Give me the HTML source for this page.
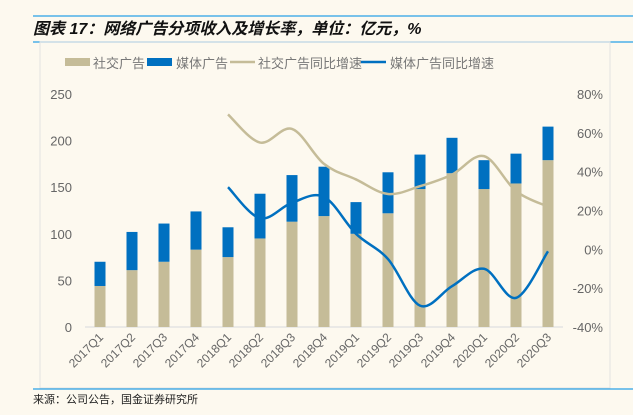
<!DOCTYPE html>
<html><head><meta charset="utf-8"><style>
body{margin:0;background:#fdf9ef;width:633px;height:410px;overflow:hidden;font-family:"Liberation Sans","Noto Sans CJK SC",sans-serif}
</style></head><body>
<svg width="633" height="410" xmlns="http://www.w3.org/2000/svg">
<rect width="633" height="410" fill="#fdf9ef"/>
<line x1="33" y1="16" x2="633" y2="16" stroke="#2aa2e6" stroke-width="1.2"/>
<text x="33" y="34" font-size="16" font-weight="bold" font-style="italic" fill="#111" font-family="Liberation Sans,'Noto Sans CJK SC',sans-serif">图表 17：网络广告分项收入及增长率，单位：亿元，%</text>
<line x1="33" y1="42" x2="633" y2="42" stroke="#2aa2e6" stroke-width="1.2"/>
<rect x="40" y="42" width="570" height="346" fill="none" stroke="#e2e2e2"/>
<line x1="33" y1="389" x2="633" y2="389" stroke="#2aa2e6" stroke-width="1.2"/>
<text x="33" y="403" font-size="11" fill="#222">来源：公司公告，国金证券研究所</text>
<g id="legend" font-size="13" fill="#777">
<rect x="65" y="58" width="25" height="8" fill="#c5bc98"/>
<text x="93" y="68">社交广告</text>
<rect x="147" y="58" width="25" height="8" fill="#0070c0"/>
<text x="176" y="68">媒体广告</text>
<line x1="230" y1="62" x2="255" y2="62" stroke="#c5bc98" stroke-width="2.5"/>
<text x="258" y="68">社交广告同比增速</text>
<line x1="361" y1="62" x2="386" y2="62" stroke="#0070c0" stroke-width="2.5"/>
<text x="390" y="68">媒体广告同比增速</text>
</g>
<g id="axes"></g>
<g id="bars"></g>
<g id="lines"></g>
</svg>
<script>
const categories=["2017Q1","2017Q2","2017Q3","2017Q4","2018Q1","2018Q2","2018Q3","2018Q4","2019Q1","2019Q2","2019Q3","2019Q4","2020Q1","2020Q2","2020Q3"];
const socialAds=[44,61,70,83,75,95,113,119,100,122,148,165,148,154,179];
const mediaAds=[26,41,41,41,32,48,50,53,34,44,37,38,31,32,36];
const socialGrowth=[null,null,null,null,69.5,55,62,44,36,28.5,32.5,38.5,48,30,22];
const mediaGrowth=[null,null,null,null,32,16,24,27,8,-5,-29,-19,-10,-25,-1];
const leftTicks=[0,50,100,150,200,250];
const rightTicks=[-40,-20,0,20,40,60,80];

const NS="http://www.w3.org/2000/svg";
const y0=327,y1=94;
const yL=v=>y0-(v/250)*(y0-y1);
const yR=v=>y0-((v+40)/120)*(y0-y1);
const xC=i=>100+i*32;
function mk(tag,attrs,parent){const e=document.createElementNS(NS,tag);for(const k in attrs)e.setAttribute(k,attrs[k]);document.getElementById(parent).appendChild(e);return e;}

const ax=mk("line",{x1:85,y1:y0,x2:563,y2:y0,stroke:"#e0e0e0","stroke-width":1.2},"axes");


leftTicks.forEach(t=>{const e=mk("text",{x:72,y:yL(t)+5,"font-size":13,fill:"#666","text-anchor":"end"},"axes");e.textContent=t;

});
rightTicks.forEach(t=>{const e=mk("text",{x:603,y:yR(t)+5,"font-size":13,fill:"#666","text-anchor":"end"},"axes");e.textContent=t+"%";

});
categories.forEach((c,i)=>{const x=xC(i)+4,y=338;const e=mk("text",{x:x,y:y,"font-size":12,fill:"#666","text-anchor":"end",transform:`rotate(-45 ${x} ${y})`},"axes");e.textContent=c;

});

categories.forEach((c,i)=>{const w=11,x=xC(i)-w/2;
const s=mk("rect",{x:x,y:yL(socialAds[i]),width:w,height:y0-yL(socialAds[i]),fill:"#c5bc98"},"bars");


const tot=socialAds[i]+mediaAds[i];
const m=mk("rect",{x:x,y:yL(tot),width:w,height:yL(socialAds[i])-yL(tot),fill:"#0070c0"},"bars");

});

function smooth(pts){let d=`M${pts[0][0]},${pts[0][1]}`;for(let i=0;i<pts.length-1;i++){const p0=pts[i-1]||pts[i],p1=pts[i],p2=pts[i+1],p3=pts[i+2]||p2;const t=6;
d+=` C${p1[0]+(p2[0]-p0[0])/t},${p1[1]+(p2[1]-p0[1])/t} ${p2[0]-(p3[0]-p1[0])/t},${p2[1]-(p3[1]-p1[1])/t} ${p2[0]},${p2[1]}`;}return d;}
function series(arr){const p=[];arr.forEach((v,i)=>{if(v!==null)p.push([xC(i),yR(v)]);});return p;}
const l1=mk("path",{d:smooth(series(socialGrowth)),fill:"none",stroke:"#c5bc98","stroke-width":2.5},"lines");


const l2=mk("path",{d:smooth(series(mediaGrowth)),fill:"none",stroke:"#0070c0","stroke-width":2.5},"lines");


</script>
</body></html>
